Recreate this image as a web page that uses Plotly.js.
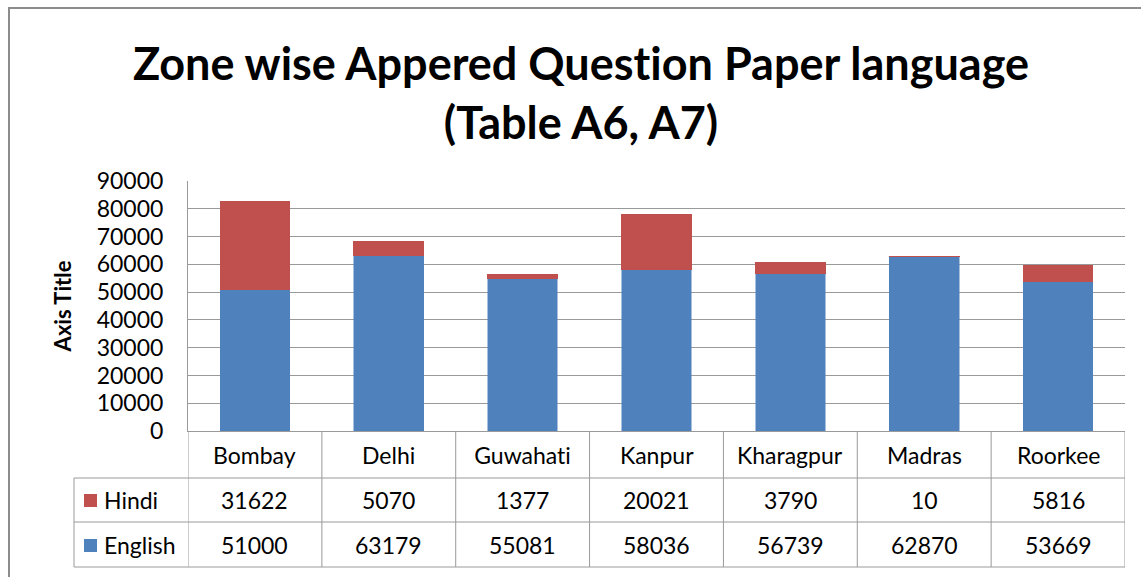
<!DOCTYPE html>
<html>
<head>
<meta charset="utf-8">
<script src="https://cdn.plot.ly/plotly-3.0.1.min.js"></script>
<style>
html,body{margin:0;padding:0;background:#fff;}
#chart{width:1141px;height:577px;}
#chart svg, #chart text, #chart tspan{font-variant-ligatures:none !important;font-feature-settings:"liga" 0, "clig" 0, "dlig" 0, "calt" 0 !important;}
</style>
</head>
<body>
<div id="chart"></div>
<script>
// ---- data ----
var zones = ["Bombay", "Delhi", "Guwahati", "Kanpur", "Kharagpur", "Madras", "Roorkee"];
var english = [51000, 63179, 55081, 58036, 56739, 62870, 53669];
var hindi = [31622, 5070, 1377, 20021, 3790, 10, 5816];
var seriesNames = ["Hindi", "English"];
var yTicks = [0, 10000, 20000, 30000, 40000, 50000, 60000, 70000, 80000, 90000];
var chartTitle = "Zone wise Appered Question Paper language<br>(Table A6, A7)";
var axisTitle = "Axis Title";

// ---- style ----
var RED = "#C0504D", BLUE = "#4F81BD", GRID = "#9A9A9A", FONT = "Lato, 'Open Sans', sans-serif";
var W = 1141, H = 577, L = 188, R = 16, T = 181, B = 146;
var plotW = W - L - R, plotH = H - T - B;
function px(p){ return (p - L) / plotW; }       // pixel x -> paper x
function py(p){ return (H - B - p) / plotH; }   // pixel y -> paper y

var traces = [
  {type: "bar", name: seriesNames[1], x: zones, y: english, marker: {color: BLUE, line: {color: BLUE, width: 0.5}}},
  {type: "bar", name: seriesNames[0], x: zones, y: hindi, marker: {color: RED, line: {color: RED, width: 1}}}
];

var shapes = [];
var annotations = [];
var lineStyle = {color: GRID, width: 1};
var TXT = 23;

// outer chart frame
shapes.push({type: "rect", xref: "paper", yref: "paper", x0: px(9), x1: px(1160), y0: py(600), y1: py(8),
  line: {color: "#8C8C8C", width: 2}, fillcolor: "rgba(0,0,0,0)", layer: "below"});

// table row positions (pixels)
var rowTop = [431, 478, 522, 567];
var tableLeft = 74;
for (var r = 1; r < rowTop.length; r++) {
  shapes.push({type: "line", xref: "paper", yref: "paper", x0: px(tableLeft), x1: 1, y0: py(rowTop[r]), y1: py(rowTop[r]), line: lineStyle});
}
for (var i = 0; i <= zones.length; i++) {
  shapes.push({type: "line", xref: "x", yref: "paper", x0: i - 0.5, x1: i - 0.5, y0: py(431), y1: py(567), line: lineStyle});
}
shapes.push({type: "line", xref: "paper", yref: "paper", x0: px(tableLeft), x1: px(tableLeft), y0: py(478), y1: py(567), line: lineStyle});

// table text
var rowCenter = [455, 500, 545];
zones.forEach(function(z, k){
  annotations.push({xref: "x", yref: "paper", x: k, y: py(rowCenter[0]), text: z, showarrow: false,
    font: {family: FONT, size: TXT, color: "#000"}, xanchor: "center", yanchor: "middle"});
  annotations.push({xref: "x", yref: "paper", x: k, y: py(rowCenter[1]), text: String(hindi[k]), showarrow: false,
    font: {family: FONT, size: TXT, color: "#000"}, xanchor: "center", yanchor: "middle"});
  annotations.push({xref: "x", yref: "paper", x: k, y: py(rowCenter[2]), text: String(english[k]), showarrow: false,
    font: {family: FONT, size: TXT, color: "#000"}, xanchor: "center", yanchor: "middle"});
});

// legend keys in table
var keyColors = [RED, BLUE];
var keyTops = [494, 539];
for (var s = 0; s < 2; s++) {
  shapes.push({type: "rect", xref: "paper", yref: "paper", x0: px(84), x1: px(97), y0: py(keyTops[s] + 13), y1: py(keyTops[s]),
    fillcolor: keyColors[s], line: {width: 0}});
  annotations.push({xref: "paper", yref: "paper", x: px(102), y: py(rowCenter[s + 1]), text: seriesNames[s], showarrow: false,
    font: {family: FONT, size: TXT, color: "#000"}, xanchor: "left", yanchor: "middle"});
}

var layout = {
  width: W, height: H,
  margin: {l: L, r: R, t: T, b: B, pad: 0},
  paper_bgcolor: "#fff", plot_bgcolor: "#fff",
  barmode: "stack", bargap: 0.48,
  showlegend: false,
  title: {text: chartTitle, xref: "container", yref: "container", x: 581 / W, y: 1 - 80 / H,
    xanchor: "center", yanchor: "middle", font: {family: FONT, size: 45, color: "#000", weight: "bold"}},
  xaxis: {type: "category", range: [-0.5, zones.length - 0.5], showticklabels: false, showgrid: false,
    showline: true, linecolor: GRID, linewidth: 1, ticks: "", zeroline: false, fixedrange: true},
  yaxis: {range: [0, 90000], tickvals: yTicks, ticktext: yTicks.map(String), showgrid: true, gridcolor: GRID, gridwidth: 1,
    showline: true, linecolor: GRID, linewidth: 1, ticks: "", zeroline: false, ticklabelstandoff: 19,
    tickfont: {family: FONT, size: 23, color: "#000"},
    title: {text: axisTitle, standoff: 18, font: {family: FONT, size: 22, color: "#000", weight: "bold"}}},
  shapes: shapes,
  annotations: annotations,
  font: {family: FONT}
};

Plotly.newPlot("chart", traces, layout, {displayModeBar: false, staticPlot: true});
</script>
</body>
</html>
